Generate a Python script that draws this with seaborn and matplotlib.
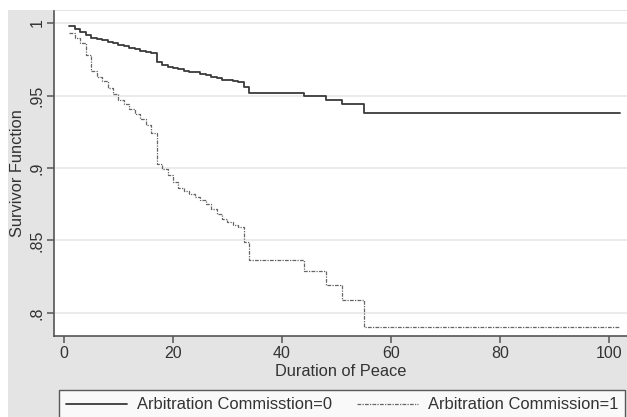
import pandas as pd
import numpy as np
import matplotlib
matplotlib.use('Agg')
import matplotlib.pyplot as plt
from matplotlib.patches import Rectangle
import seaborn as sns

# Kaplan-Meier survivor function
time_ac0 = [1, 2, 3, 4, 5, 6, 7, 8, 9, 10, 11, 12, 13, 14, 15, 16, 17, 18, 19, 20,
            21, 22, 23, 24, 25, 26, 27, 28, 29, 30, 31, 32, 33, 34, 44, 48, 51, 55, 102]
surv_ac0 = [0.998, 0.996, 0.994, 0.992, 0.990, 0.989, 0.988, 0.987, 0.986, 0.985,
            0.984, 0.983, 0.982, 0.981, 0.980, 0.979, 0.973, 0.971, 0.970, 0.969,
            0.968, 0.967, 0.966, 0.966, 0.965, 0.964, 0.963, 0.962, 0.961, 0.961,
            0.960, 0.959, 0.956, 0.952, 0.9495, 0.947, 0.944, 0.938, 0.938]

time_ac1 = [1, 2, 3, 4, 5, 6, 7, 8, 9, 10, 11, 12, 13, 14, 15, 16, 17, 18, 19, 20,
            21, 22, 23, 24, 25, 26, 27, 28, 29, 30, 31, 32, 33, 34, 44, 48, 51, 55, 102]
surv_ac1 = [0.993, 0.990, 0.986, 0.978, 0.967, 0.963, 0.960, 0.955, 0.951, 0.947,
            0.944, 0.941, 0.937, 0.934, 0.930, 0.924, 0.903, 0.899, 0.895, 0.890,
            0.886, 0.884, 0.882, 0.880, 0.878, 0.875, 0.872, 0.868, 0.865, 0.863,
            0.861, 0.859, 0.849, 0.8366, 0.829, 0.819, 0.809, 0.790, 0.790]

label_ac0 = 'Arbitration Commisstion=0'
label_ac1 = 'Arbitration Commission=1'

xticks = [0, 20, 40, 60, 80, 100]
yticks = [0.8, 0.85, 0.9, 0.95, 1.0]
ytick_labels = ['.8', '.85', '.9', '.95', '1']

sns.set_theme(style='white')
plt.rcParams['font.family'] = ['Liberation Sans', 'DejaVu Sans']

df0 = pd.DataFrame({'t': time_ac0, 's': surv_ac0})
df1 = pd.DataFrame({'t': time_ac1, 's': surv_ac1})

fig = plt.figure(figsize=(6.27, 4.17), dpi=100, facecolor='white')
# Stata-like grey graph region, drawn behind the axes
fig.patches.append(Rectangle((8/627, 0), 1, 1 - 10/417, transform=fig.transFigure,
                             facecolor='#e4e4e4', edgecolor='none', zorder=-10))

ax = fig.add_axes([54/627, 1 - 336/417, 573/627, 325/417])
ax.set_zorder(1)
ax.set_facecolor('white')

sns.lineplot(data=df0, x='t', y='s', ax=ax, estimator=None, sort=True,
             drawstyle='steps-post', color='#3a3a3a', linewidth=1.3, label=label_ac0)
sns.lineplot(data=df1, x='t', y='s', ax=ax, estimator=None, sort=True,
             drawstyle='steps-post', color='#666666', linewidth=0.9,
             linestyle=(0, (3, 1, 1, 1)), label=label_ac1)

ax.set_xlim(-1.83, 103.3)
ax.set_ylim(0.7841, 1.0083)
ax.set_xticks(xticks)
ax.set_yticks(yticks)
ax.set_yticklabels(ytick_labels, rotation=90, va='center')
ax.tick_params(axis='both', direction='out', length=5, width=1.1, color='#555555',
               labelsize=11.5, labelcolor='#333333', pad=2, left=True, bottom=True)

for y in yticks:
    ax.axhline(y, color='#ebebeb', linewidth=1.4, zorder=0)

for side in ['top', 'right']:
    ax.spines[side].set_visible(False)
for side in ['left', 'bottom']:
    ax.spines[side].set_color('#555555')
    ax.spines[side].set_linewidth(1.2)

ax.set_xlabel('Duration of Peace', fontsize=11.8, color='#333333', labelpad=2)
ax.set_ylabel('Survivor Function', fontsize=11.8, color='#333333', labelpad=3)

handles, labels = ax.get_legend_handles_labels()
ax.get_legend().remove()
leg = fig.legend(handles, labels, loc='upper left', ncol=2,
                 bbox_to_anchor=(59/627, 1 - 390/417), borderaxespad=0,
                 fontsize=11.85, handlelength=3.7, handletextpad=0.6,
                 columnspacing=1.5, borderpad=0.45, fancybox=False,
                 frameon=True, facecolor='white', edgecolor='#333333')
leg.get_frame().set_linewidth(1.0)
for t in leg.get_texts():
    t.set_color('#333333')

fig.savefig('out.png', dpi=100)
